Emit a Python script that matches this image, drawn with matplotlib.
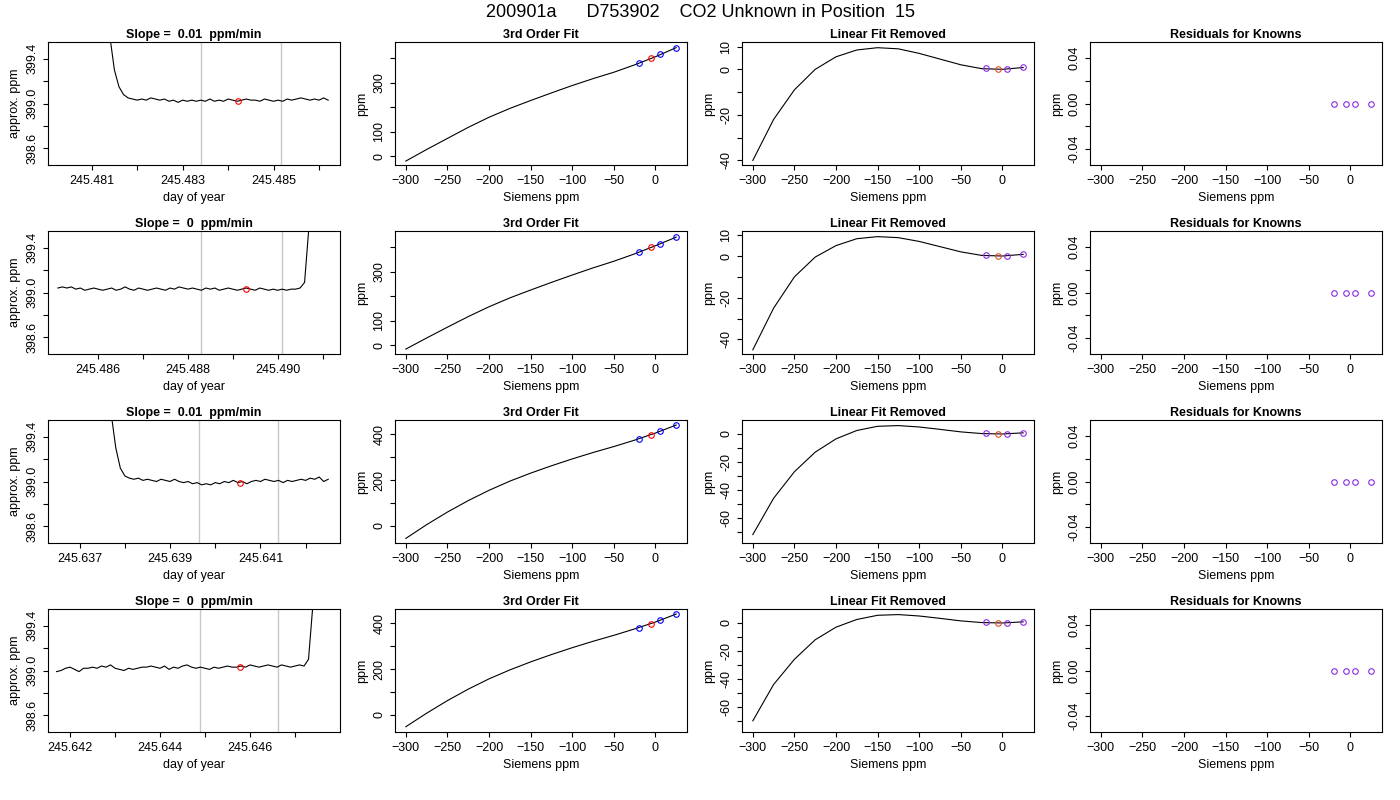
import numpy as np
import matplotlib
matplotlib.use('Agg')
import matplotlib.pyplot as plt

plt.rcParams['font.family'] = ['Liberation Sans', 'DejaVu Sans']
plt.rcParams['font.size'] = 9

suptitulo = '200901a      D753902    CO2 Unknown in Position  15'

# series de tempo (dia do ano, ppm aproximado)
t_inicio = [245.4813, 245.4851, 245.6376, 245.6417]
t_passo = 0.0001
serie1 = [400.5, 399.6, 399.3, 399.15, 399.08, 399.05, 399.04, 399.03, 399.04, 399.03,
          399.05, 399.04, 399.03, 399.04, 399.02, 399.03, 399.01, 399.03, 399.02, 399.03,
          399.02, 399.03, 399.02, 399.04, 399.02, 399.03, 399.02, 399.04, 399.03, 399.02,
          399.03, 399.04, 399.03, 399.03, 399.02, 399.04, 399.03, 399.02, 399.03, 399.02,
          399.04, 399.03, 399.04, 399.05, 399.04, 399.03, 399.04, 399.03, 399.05, 399.03]
serie2 = [399.04, 399.05, 399.04, 399.05, 399.03, 399.04, 399.02, 399.03, 399.04, 399.03,
          399.02, 399.03, 399.04, 399.02, 399.03, 399.05, 399.03, 399.02, 399.04, 399.03,
          399.02, 399.03, 399.04, 399.03, 399.02, 399.04, 399.03, 399.05, 399.04, 399.03,
          399.04, 399.03, 399.02, 399.04, 399.03, 399.04, 399.02, 399.03, 399.04, 399.03,
          399.02, 399.03, 399.04, 399.03, 399.02, 399.04, 399.03, 399.02, 399.03, 399.02,
          399.03, 399.02, 399.03, 399.03, 399.04, 399.09, 399.6, 400.5]
serie3 = [400.5, 399.6, 399.3, 399.12, 399.05, 399.03, 399.02, 399.03, 399.01, 399.02,
          399.01, 399.00, 399.02, 399.01, 399.00, 399.02, 399.00, 398.99, 399.00, 398.98,
          398.99, 398.97, 398.98, 398.97, 398.99, 398.98, 399.00, 398.99, 399.01, 398.99,
          399.00, 398.98, 399.00, 399.01, 399.00, 399.02, 399.01, 399.00, 399.01, 398.99,
          399.01, 399.00, 399.01, 399.02, 399.01, 399.03, 399.02, 399.04, 399.00, 399.02]
serie4 = [398.99, 399.00, 399.02, 399.03, 399.01, 398.99, 399.02, 399.02, 399.03, 399.02,
          399.04, 399.03, 399.05, 399.02, 399.01, 399.00, 399.02, 399.01, 399.02, 399.03,
          399.03, 399.04, 399.03, 399.02, 399.04, 399.01, 399.03, 399.02, 399.04, 399.05,
          399.03, 399.02, 399.03, 399.02, 399.01, 399.03, 399.02, 399.03, 399.04, 399.03,
          399.03, 399.04, 399.03, 399.05, 399.04, 399.03, 399.04, 399.05, 399.04, 399.03,
          399.05, 399.04, 399.03, 399.04, 399.05, 399.04, 399.10, 399.6, 400.5]
series = [serie1, serie2, serie3, serie4]
linhas_cinza = [(245.4834, 245.48516), (245.4883, 245.4901), (245.63964, 245.64138), (245.64488, 245.64662)]
ponto_vermelho = [(245.48422, 399.02), (245.4893, 399.03), (245.64055, 398.99), (245.64578, 399.03)]
xlims_t = [(245.48004, 245.48646), (245.48488, 245.49139), (245.6363, 245.64276), (245.64151, 245.648)]
xticks_t = [[245.481, 245.482, 245.483, 245.484, 245.485, 245.486],
            [245.486, 245.487, 245.488, 245.489, 245.490, 245.491],
            [245.637, 245.638, 245.639, 245.640, 245.641, 245.642],
            [245.642, 245.643, 245.644, 245.645, 245.646, 245.647]]
inclinacoes = ['0.01', '0', '0.01', '0']

# curvas de ajuste (Siemens ppm)
x_curva = [-300, -275, -250, -225, -200, -175, -150, -125, -100, -75, -50, -25, 0, 25]
ajuste = [[-19, 28, 73, 118, 159, 195, 227, 258, 288, 316, 342, 372, 405, 442],
          [-15, 30, 74, 117, 157, 193, 225, 256, 286, 315, 342, 372, 405, 440],
          [-55, 5, 60, 110, 155, 195, 230, 262, 292, 320, 346, 374, 405, 440],
          [-52, 7, 62, 112, 157, 196, 231, 263, 293, 321, 347, 375, 405, 440]]
residuo = [[-40, -22, -9, 0, 5.5, 8.5, 9.5, 9, 7, 4.5, 2, 0.3, 0, 0.8],
           [-45, -25, -10, -0.5, 5, 8.3, 9.3, 8.8, 7, 4.5, 2, 0.3, 0, 0.8],
           [-72, -46, -27, -13, -3.5, 2.5, 5.5, 6, 5, 3.3, 1.5, 0.3, 0, 0.8],
           [-70, -44, -26, -12, -3, 2.5, 5.5, 6, 5, 3.3, 1.5, 0.3, 0, 0.8]]
x_conhecidos = [-20, 5, 25]
x_desconhecido = -5
y_conhecidos = [[381, 415, 442], [378, 413, 440], [380, 413, 440], [380, 413, 440]]
y_desconhecido = [401, 398, 398, 398]
r_conhecidos = [0.5, 0, 1]
r_desconhecido = 0
x_residuos = [-20, -5, 5, 25]
residuos = [0, 0, 0, 0]

fig = plt.figure(figsize=(14, 8), dpi=100)
fig.suptitle(suptitulo, fontsize=13, y=0.995)

esquerdas = [48, 395, 742, 1090]
largura = 292
topos = [42, 231, 420, 609]
altura = 123
titulo_kw = dict(fontsize=9, fontweight='bold', pad=3)


def eixo(col, lin):
    ax = fig.add_axes([esquerdas[col] / 1400, 1 - (topos[lin] + altura) / 800,
                       largura / 1400, altura / 800])
    return ax


def rotulos_y(ax, ticks, mostrar):
    ax.set_yticks(ticks)
    ax.set_yticklabels([(str(t) if t in mostrar else '') for t in ticks],
                       rotation=90, va='center')


for i in range(4):
    # coluna 1
    ax = eixo(0, i)
    y = series[i]
    x = t_inicio[i] + t_passo * np.arange(len(y))
    for g in linhas_cinza[i]:
        ax.axvline(g, color='#c8c8c8', lw=1)
    ax.plot(x, y, color='black', lw=0.8)
    ax.plot(*ponto_vermelho[i], 'o', mfc='none', mec='red', ms=4, mew=0.8)
    ax.set_xlim(*xlims_t[i])
    ax.set_ylim(398.45, 399.55)
    ax.set_xticks(xticks_t[i])
    ax.set_xticklabels([f'{v:.3f}' if k % 2 == 0 else '' for k, v in enumerate(xticks_t[i])])
    ax.set_yticks([398.6, 398.8, 399.0, 399.2, 399.4])
    ax.set_yticklabels(['398.6', '', '399.0', '', '399.4'], rotation=90, va='center')
    ax.set_xlabel('day of year')
    ax.set_ylabel('approx. ppm')
    ax.set_title(f'Slope =  {inclinacoes[i]}  ppm/min', **titulo_kw)

    # coluna 2
    ax = eixo(1, i)
    ax.plot(x_curva, ajuste[i], color='black', lw=0.8)
    ax.plot(x_conhecidos, y_conhecidos[i], 'o', mfc='none', mec='blue', ms=4, mew=0.8)
    ax.plot(x_desconhecido, y_desconhecido[i], 'o', mfc='none', mec='red', ms=4, mew=0.8)
    ax.set_xlim(-313, 38)
    if i < 2:
        ax.set_ylim(-35, 465)
        rotulos_y(ax, [0, 100, 200, 300, 400], [0, 100, 300])
    else:
        ax.set_ylim(-75, 462)
        rotulos_y(ax, [0, 100, 200, 300, 400], [0, 200, 400])
    ax.set_xticks([-300, -250, -200, -150, -100, -50, 0])
    ax.set_xlabel('Siemens ppm')
    ax.set_ylabel('ppm')
    ax.set_title('3rd Order Fit', **titulo_kw)

    # coluna 3
    ax = eixo(2, i)
    ax.plot(x_curva, residuo[i], color='black', lw=0.8)
    ax.plot(x_conhecidos, r_conhecidos, 'o', mfc='none', mec='blueviolet', ms=4, mew=0.8)
    ax.plot(x_desconhecido, r_desconhecido, 'o', mfc='none', mec='#e0502a', ms=4, mew=0.8)
    ax.set_xlim(-313, 38)
    if i < 2:
        lo = min(residuo[i]) - 2
        ax.set_ylim(lo, 12)
        rotulos_y(ax, [-40, -30, -20, -10, 0, 10], [-40, -20, 0, 10])
    else:
        ax.set_ylim(-78, 10)
        rotulos_y(ax, [-70, -60, -50, -40, -30, -20, -10, 0], [-60, -40, -20, 0])
    ax.set_xticks([-300, -250, -200, -150, -100, -50, 0])
    ax.set_xlabel('Siemens ppm')
    ax.set_ylabel('ppm')
    ax.set_title('Linear Fit Removed', **titulo_kw)

    # coluna 4
    ax = eixo(3, i)
    ax.plot(x_residuos, residuos, 'o', mfc='none', mec='blueviolet', ms=4, mew=0.8)
    ax.set_xlim(-313, 38)
    ax.set_ylim(-0.054, 0.054)
    ax.set_yticks([-0.04, -0.02, 0.0, 0.02, 0.04])
    ax.set_yticklabels(['-0.04', '', '0.00', '', '0.04'], rotation=90, va='center')
    ax.set_xticks([-300, -250, -200, -150, -100, -50, 0])
    ax.set_xlabel('Siemens ppm')
    ax.set_ylabel('ppm')
    ax.set_title('Residuals for Knowns', **titulo_kw)

plt.savefig('out.png', dpi=100)
plt.close()
